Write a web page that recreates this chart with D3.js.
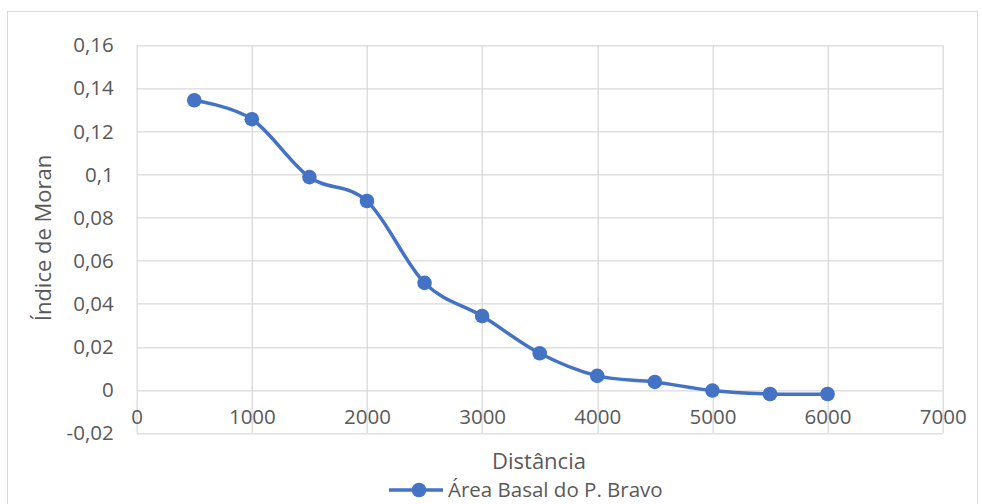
<!DOCTYPE html>
<html>
<head>
<meta charset="utf-8">
<script src="https://cdn.jsdelivr.net/npm/d3@7"></script>
<style>
  body { margin: 0; background: #fff; }
  text { font-family: "Open Sans", "Liberation Sans", sans-serif; fill: #595959; }
</style>
</head>
<body>
<div id="figure"></div>
<script>
// values
var distancia = [500, 1000, 1500, 2000, 2500, 3000, 3500, 4000, 4500, 5000, 5500, 6000];
var moran = [0.1345, 0.1257, 0.0988, 0.0877, 0.0497, 0.0343, 0.0170, 0.0065, 0.0037, -0.0003, -0.0019, -0.0019];
var xTicks = [0, 1000, 2000, 3000, 4000, 5000, 6000, 7000];
var yTicks = [-0.02, 0, 0.02, 0.04, 0.06, 0.08, 0.1, 0.12, 0.14, 0.16];
var seriesName = "Área Basal do P. Bravo";

var data = distancia.map((d, i) => ({x: d, y: moran[i]}));

const W = 982, H = 504;
const margin = {top: 45.3, right: 39.3, bottom: 71, left: 136.7},
  width = W - margin.left - margin.right,
  height = H - margin.top - margin.bottom;

const root = d3.select("#figure")
  .append("svg")
  .attr("width", W)
  .attr("height", H);

// chart border
root.append("rect")
  .attr("x", 7.5).attr("y", 11.5)
  .attr("width", 970).attr("height", 500)
  .attr("fill", "none")
  .attr("stroke", "#d9d9d9");

const svg = root.append("g")
  .attr("transform", `translate(${margin.left},${margin.top})`);

const x = d3.scaleLinear().domain([0, 7000]).range([0, width]);
const y = d3.scaleLinear().domain([-0.02, 0.16]).range([height, 0]);

// gridlines
svg.append("g")
  .selectAll("line.h")
  .data(yTicks)
  .join("line")
  .attr("x1", 0).attr("x2", width)
  .attr("y1", d => Math.round(y(d)) + 0.5)
  .attr("y2", d => Math.round(y(d)) + 0.5)
  .attr("stroke", "#d9d9d9")
  .attr("stroke-width", 1.3);

svg.append("g")
  .selectAll("line.v")
  .data(xTicks)
  .join("line")
  .attr("y1", 0).attr("y2", height)
  .attr("x1", d => Math.round(x(d)) + 0.5)
  .attr("x2", d => Math.round(x(d)) + 0.5)
  .attr("stroke", "#d9d9d9")
  .attr("stroke-width", 1.3);

// Y axis labels
const fmt = d => String(d).replace(".", ",");
const yAxis = svg.append("g")
  .call(d3.axisLeft(y).tickValues(yTicks).tickFormat(fmt).tickSize(0).tickPadding(23));
yAxis.select(".domain").remove();
yAxis.selectAll("text").style("font-size", "20.5px").attr("fill", "#595959");

// X axis labels (axis crosses at 0)
const xAxis = svg.append("g")
  .attr("transform", `translate(0,${y(0)})`)
  .call(d3.axisBottom(x).tickValues(xTicks).tickFormat(d => String(d)).tickSize(0).tickPadding(20));
xAxis.select(".domain").remove();
xAxis.selectAll("text").style("font-size", "20.5px").attr("fill", "#595959");

// line
const line = d3.line()
  .x(d => x(d.x))
  .y(d => y(d.y))
  .curve(d3.curveCardinal.tension(0));

svg.append("path")
  .datum(data)
  .attr("fill", "none")
  .attr("stroke", "#4472c4")
  .attr("stroke-width", 3.5)
  .attr("stroke-linecap", "round")
  .attr("d", line);

svg.selectAll("circle")
  .data(data)
  .join("circle")
  .attr("cx", d => x(d.x))
  .attr("cy", d => y(d.y))
  .attr("r", 7.3)
  .attr("fill", "#4472c4");

// axis titles
root.append("text")
  .attr("x", 539)
  .attr("y", 469)
  .attr("text-anchor", "middle")
  .style("font-size", "22px")
  .text("Distância");

root.append("text")
  .attr("transform", `translate(51,238) rotate(-90)`)
  .attr("text-anchor", "middle")
  .style("font-size", "22px")
  .text("Índice de Moran");

// legend
const lg = root.append("g").attr("transform", "translate(389,490)");
lg.append("line")
  .attr("x1", 0).attr("x2", 54)
  .attr("stroke", "#4472c4").attr("stroke-width", 3.5);
lg.append("circle").attr("cx", 30).attr("r", 7.3).attr("fill", "#4472c4");
lg.append("text")
  .attr("x", 59).attr("y", 7)
  .style("font-size", "20.5px")
  .text(seriesName);
</script>
</body>
</html>
